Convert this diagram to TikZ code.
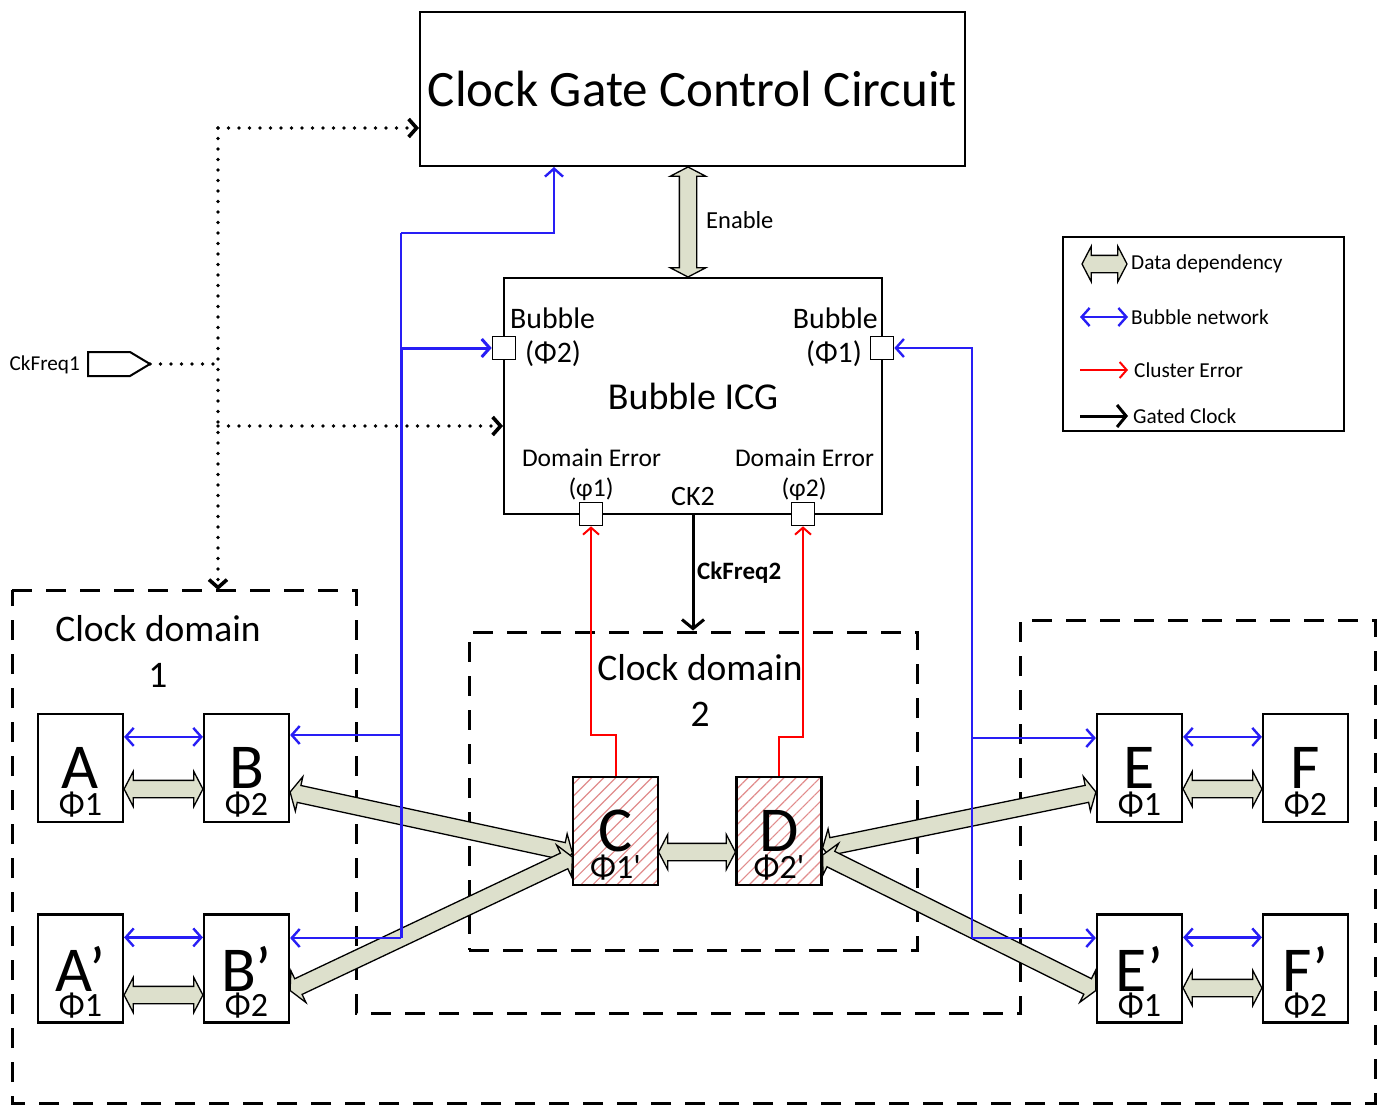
\documentclass[tikz,border=0pt]{standalone}
\usepackage{fontspec}
\setmainfont{Carlito}
\usetikzlibrary{arrows.meta, calc, positioning, shapes.arrows, patterns.meta}
\definecolor{ddfill}{RGB}{221,224,204}
\definecolor{bubblue}{RGB}{40,30,245}
\definecolor{hatchred}{RGB}{225,140,140}

% fat double arrow (data dependency) between two points
\newcommand{\dataarrow}[3]{%
  \path let \p1=#2, \p2=#3, \n1={atan2(\y2-\y1,\x2-\x1)}, \n2={veclen(\x2-\x1,\y2-\y1)} in
    node[datadep, minimum height=\n2, rotate=\n1] (#1) at ($(\p1)!0.5!(\p2)$) {};}

\begin{document}
\begin{tikzpicture}[x=1pt, y=-1pt, >={Straight Barb[length=8pt,width=18pt]},
  every node/.style={inner sep=0pt},
  blk/.style={draw, line width=2.2pt, fill=white, minimum width=85pt, minimum height=108pt,
    font=\fontsize{64}{64}\selectfont},
  errblk/.style={blk, fill=none, preaction={fill=white},
    pattern={Lines[angle=45,distance=8.5pt,line width=1.2pt]}, pattern color=hatchred},
  phase/.style={font=\fontsize{34}{34}\selectfont, yshift=-37pt},
  datadep/.style={double arrow, draw, line width=1.3pt, fill=ddfill, inner xsep=0pt, inner ysep=8pt,
    double arrow head extend=9pt, double arrow tip angle=125, outer sep=0pt},
  bub/.style={draw=bubblue, line width=2.4pt},
  err/.style={draw=red, line width=2pt, >={Straight Barb[length=7pt,width=16pt]}},
  gclk/.style={draw=black, line width=3pt, >={Straight Barb[length=9pt,width=22pt]}},
  dots/.style={line width=3.6pt, line cap=round, dash pattern=on 0pt off 10.5pt},
  dashbox/.style={line width=3pt, dash pattern=on 20pt off 14pt},
  port/.style={draw, line width=1.6pt, fill=white, minimum size=23pt},
  t21/.style={font=\fontsize{21.3}{24}\selectfont},
  t25/.style={font=\fontsize{25.5}{30}\selectfont},
  t29/.style={font=\fontsize{29.8}{32}\selectfont},
  dtitle/.style={font=\fontsize{37.5}{46}\selectfont, align=center}]

  \useasboundingbox (0,0) rectangle (1378,1105);

  % --- Control blocks ---
  \node[draw, line width=2pt, minimum width=545pt, minimum height=154pt,
    font=\fontsize{51}{60}\selectfont] (cgc) at (692.5,89) {Clock Gate Control Circuit};
  \node[draw, line width=2pt, minimum width=378pt, minimum height=236pt,
    font=\fontsize{38}{40}\selectfont] (icg) at (693,396) {Bubble ICG};

  % --- Ports of the ICG ---
  \node[port] (bpL) at (504,348) {};
  \node[port] (bpR) at (882,348) {};
  \node[port] (deL) at (591,514) {};
  \node[port] (deR) at (803,514) {};
  \node[t29, anchor=west] (bpL-t) at (510,318) {Bubble};
  \node[t29, anchor=west] (bpL-p) at (525,354) {(Φ2)};
  \node[t29, anchor=east] (bpR-t) at (878,318) {Bubble};
  \node[t29, anchor=east] (bpR-p) at (862,354) {(Φ1)};
  \node[t25] (deL-t) at (591.5,458) {Domain Error};
  \node[t25] (deL-p) at (591,489) {(φ1)};
  \node[t25] (deR-t) at (804.5,458) {Domain Error};
  \node[t25] (deR-p) at (804,489) {(φ2)};
  \node[font=\fontsize{28}{32}\selectfont] (ck2) at (693,497) {CK2};

  % --- Clock domains ---
  \draw[dashbox] (12,590) -- (356,590) -- (356,1013) -- (1020,1013) -- (1020,620)
    -- (1375,620) -- (1375,1103) -- (12,1103) -- cycle;
  \node[dashbox, draw, minimum width=448pt, minimum height=318pt] (dom2) at (693,791) {};
  \node[dtitle] (dom1-t) at (158,651) {Clock domain\\1};
  \node[dtitle] (dom2-t) at (700,690) {Clock domain\\2};

  % --- Blocks ---
  \node[blk, label={[phase, name=A-p]center:Φ1}] (A) at (80.5,768) {A};
  \node[blk, label={[phase, name=B-p]center:Φ2}] (B) at (246.5,768) {B};
  \node[blk, label={[phase, name=Ap-p]center:Φ1}] (Ap) at (80.5,968.5) {A’};
  \node[blk, label={[phase, name=Bp-p]center:Φ2}] (Bp) at (246.5,968.5) {B’};
  \node[errblk, label={[phase, name=C-p]center:Φ1\textquotesingle}] (C) at (615.5,831) {C};
  \node[errblk, label={[phase, name=D-p]center:Φ2\textquotesingle}] (D) at (779,831) {D};
  \node[blk, label={[phase, name=E-p]center:Φ1}] (E) at (1139.5,768) {E};
  \node[blk, label={[phase, name=F-p]center:Φ2}] (F) at (1305.5,768) {F};
  \node[blk, label={[phase, name=Ep-p]center:Φ1}] (Ep) at (1139.5,968.5) {E’};
  \node[blk, label={[phase, name=Fp-p]center:Φ2}] (Fp) at (1305.5,968.5) {F’};

  % --- Data dependencies ---
  \coordinate (en) at (688,0);
  \dataarrow{enable}{(cgc.south -| en)}{(icg.north -| en)}
  \node[t25, anchor=west, font=\fontsize{24.5}{28}\selectfont] (enable-t) at (706,220) {Enable};
  \dataarrow{ab}{($(A.east)+(0,21)$)}{($(B.west)+(0,21)$)}
  \dataarrow{apbp}{($(Ap.east)+(0,26.5)$)}{($(Bp.west)+(0,26.5)$)}
  \dataarrow{cd}{($(C.east)+(0,21)$)}{($(D.west)+(0,21)$)}
  \dataarrow{ef}{($(E.east)+(0,21)$)}{($(F.west)+(0,21)$)}
  \dataarrow{epfp}{($(Ep.east)+(0,19.5)$)}{($(Fp.west)+(0,19.5)$)}
  \dataarrow{bc}{($(B.east)+(0,24)$)}{($(C.west)+(0,22)$)}
  \dataarrow{bpc}{($(Bp.east)+(0,22)$)}{($(C.west)+(0,26)$)}
  \dataarrow{de}{($(D.east)+(0,17)$)}{($(E.west)+(0,24)$)}
  \dataarrow{dep}{($(D.east)+(0,24)$)}{($(Ep.west)+(0,22)$)}

  % --- Bubble network ---
  \coordinate (bL1) at (401,233);
  \coordinate (bL2) at (401,348);
  \coordinate (bL3) at (401,735);
  \coordinate (bL4) at (401,938);
  \coordinate (bR3) at (972,738);
  \coordinate (bR4) at (972,938);
  \draw[bub] (bL1) -- (bL2);
  \draw[bub, line width=3pt] (bL2) -- (bL4);
  \draw[bub,->] (bL1) -| ($(cgc.south west)+(135,0)$);
  \draw[bub,->, line width=3pt] (bL2) -- (bpL.west);
  \draw[bub,->] (bL3) -- (B.east |- bL3);
  \draw[bub,->] (bL4) -- (Bp.east |- bL4);
  \draw[bub,->] (bR4) |- (bpR.east);
  \draw[bub,->] (bR3) -- (E.west |- bR3);
  \draw[bub,->] (bR4) -- (Ep.west |- bR4);
  \draw[bub,<->] ($(A.north east)+(0,24)$) -- ($(B.north west)+(0,24)$);
  \draw[bub,<->] ($(Ap.north east)+(0,24)$) -- ($(Bp.north west)+(0,24)$);
  \draw[bub,<->] ($(E.north east)+(0,24)$) -- ($(F.north west)+(0,24)$);
  \draw[bub,<->] ($(Ep.north east)+(0,24)$) -- ($(Fp.north west)+(0,24)$);

  % --- Cluster errors ---
  \draw[err,->] (C.north) -- ++(0,-41) -| (deL.south);
  \draw[err,->] (D.north) -- ++(0,-39) -| (deR.south);

  % --- Gated clock ---
  \draw[gclk,->] (icg.south) -- (dom2.north);
  \node[anchor=west, font=\fontsize{25}{28}\selectfont\bfseries] (ckf2) at (697,573) {CkFreq2};

  % --- CkFreq1 ---
  \draw[line width=2pt] (88,352) -- (130,352) -- (150,364) -- (130,376) -- (88,376) -- cycle;
  \coordinate (ckf1) at (150,364);
  \node[font=\fontsize{21.2}{24}\selectfont, anchor=east] (ckf1-t) at (80,365) {CkFreq1};
  \coordinate (d1) at (218,128);
  \coordinate (d2) at (218,364);
  \coordinate (d3) at (218,426);
  \coordinate (d4) at (218,590);
  \draw[dots] (ckf1) -- (d2);
  \draw[dots,->] (d1) -- (d4);
  \draw[dots,->] (d1) -- (cgc.west |- d1);
  \draw[dots,->] (d3) -- (icg.west |- d3);

  % --- Legend ---
  \node[draw, line width=1.3pt, minimum width=281pt, minimum height=194pt] (lgd) at (1203.5,334) {};
  \dataarrow{lg1}{(1082,264)}{(1127,264)}
  \draw[bub,<->] (1080,317) -- (1128,317);
  \draw[err,->] (1080,370) -- (1128,370);
  \draw[gclk,->] (1080,416) -- (1128,416);
  \node[t21, anchor=west] (lg1-t) at (1131,264) {Data dependency};
  \node[t21, anchor=west] (lg2-t) at (1131,317) {Bubble network};
  \node[t21, anchor=west] (lg3-t) at (1134,370) {Cluster Error};
  \node[t21, anchor=west] (lg4-t) at (1133,416) {Gated Clock};

\end{tikzpicture}
\end{document}
